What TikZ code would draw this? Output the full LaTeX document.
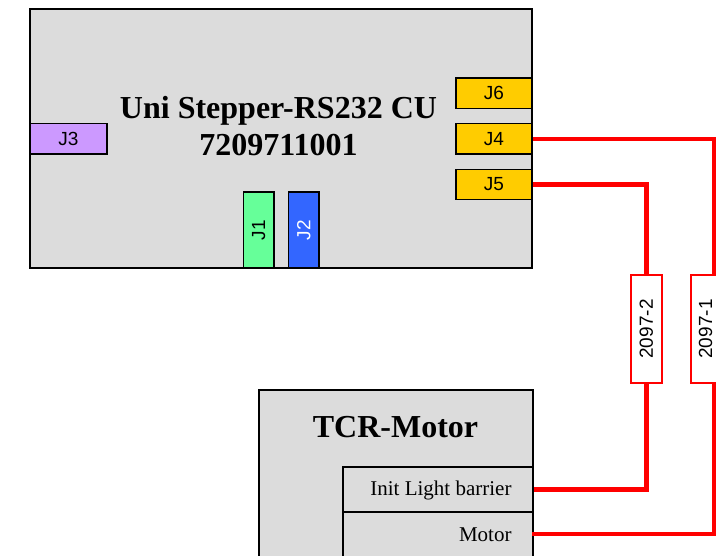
\documentclass[tikz,border=0pt]{standalone}
\usepackage{fontspec}
\setmainfont{Liberation Serif}
\setsansfont{Liberation Sans}
\usetikzlibrary{calc}
\definecolor{boxgray}{RGB}{220,220,220}
\definecolor{jpurple}{RGB}{204,153,255}
\definecolor{jgreen}{RGB}{102,255,153}
\definecolor{jblue}{RGB}{51,102,255}
\definecolor{jyellow}{RGB}{255,204,0}
\definecolor{wirered}{RGB}{255,0,0}
\tikzset{
  board/.style={draw=black, line width=1.6pt, fill=boxgray, inner sep=0pt},
  conn/.style={draw=black, line width=1.6pt, inner sep=0pt, font=\sffamily\fontsize{19}{19}\selectfont},
  cablebox/.style={draw=wirered, line width=1.8pt, fill=white, inner sep=0pt, rotate=90,
    minimum width=107.4pt, minimum height=31.3pt, font=\sffamily\fontsize{19}{19}\selectfont},
  wire/.style={draw=wirered, line width=4.2pt},
  title/.style={font=\bfseries\fontsize{32}{36.7}\selectfont, align=center, inner sep=0pt},
  sublabel/.style={font=\fontsize{21}{21}\selectfont, inner sep=0pt, anchor=base east}
}
\begin{document}
\begin{tikzpicture}[x=1pt, y=-1pt]
\useasboundingbox (0,0) rectangle (716,556);
% main board
\node[board, minimum width=502pt, minimum height=259pt] (cu) at (281,138.5) {};
\node[title] (cutitle) at (278.5,126) {Uni Stepper-RS232 CU\\7209711001};
% connectors
\node[conn, fill=jpurple, minimum width=77pt, minimum height=30.7pt] (j3) at (68.5,138.7) {J3};
\node[conn, fill=jgreen, rotate=90, minimum width=76pt, minimum height=30.7pt] (j1) at (258.7,230) {J1};
\node[conn, fill=jblue, text=white, rotate=90, minimum width=76pt, minimum height=30.7pt] (j2) at (303.8,230) {J2};
\node[conn, fill=jyellow, minimum width=76pt, minimum height=30.3pt] (j6) at (494,93.2) {J6};
\node[conn, fill=jyellow, minimum width=76pt, minimum height=30.3pt] (j4) at (494,138.8) {J4};
\node[conn, fill=jyellow, minimum width=76pt, minimum height=30.3pt] (j5) at (494,184.5) {J5};
% motor
\node[board, minimum width=274pt, minimum height=190pt, anchor=north west] (tcr) at (258,389.3) {};
\node[title, anchor=base] (tcrtitle) at (395.5,437.7) {TCR-Motor};
\node[board, minimum width=190pt, minimum height=44.7pt, anchor=north west] (ilb) at (342,466.3) {};
\node[board, minimum width=190pt, minimum height=60pt, anchor=north west] (mot) at (342,511) {};
\node[sublabel] (ilbtext) at (511.7,496) {Init Light barrier};
\node[sublabel] (mottext) at (511.7,541.7) {Motor};
% cable labels
\node[cablebox] (c2) at (646.4,329) {2097-2};
\node[cablebox] (c1) at (707,329) {};
\node[rotate=90, inner sep=0pt, font=\sffamily\fontsize{19}{19}\selectfont] (c1text) at (705.5,329) {2097-1};
\coordinate (x2) at (646.4,0);
\coordinate (x1) at (713.6,0);
\coordinate (motwire) at (532,534.3);
% wires
\draw[wire] (j5.east |- j5.center) -- (x2 |- j5.center) -- (x2 |- c2.east);
\draw[wire] (x2 |- c2.west) -- (x2 |- ilb.east) -- (ilb.east);
\draw[wire] (j4.east |- j4.center) -- (x1 |- j4.center) -- (x1 |- c1.east);
\draw[wire] (x1 |- c1.west) -- (x1 |- motwire) -- (motwire);
\end{tikzpicture}
\end{document}
